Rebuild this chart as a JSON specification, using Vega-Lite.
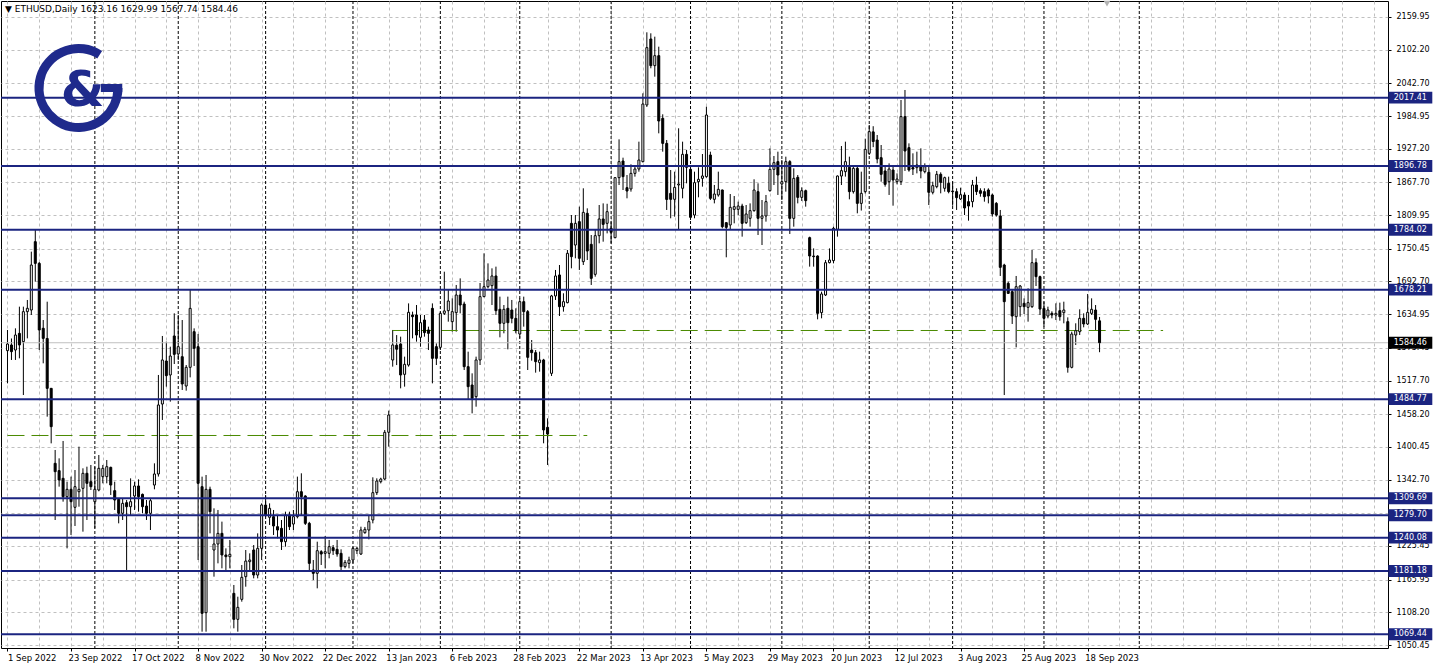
{
"$schema": "https://vega.github.io/schema/vega-lite/v6.json",
"width": 1387, "height": 647,
"autosize": "none",
"padding": {"left": 1, "top": 1, "right": 48, "bottom": 20},
"background": "white",
"title": {"text": "▼ ETHUSD,Daily  1623.16 1629.99 1567.74 1584.46", "anchor": "start", "frame": "group", "orient": "top", "offset": 0, "dx": 4, "dy": 20, "fontSize": 9, "font": "DejaVu Sans", "fontWeight": "normal", "color": "black", "baseline": "alphabetic"},
"config": {"view": {"stroke": "black", "strokeWidth": 1}},
"resolve": {"axis": {"x": "independent", "y": "independent"}},
"datasets": {
"ohlc": [
{"d":"2022-09-01","o":1570.5,"h":1607,"l":1512.7,"c":1582.2},
{"d":"2022-09-02","o":1580.5,"h":1592,"l":1554,"c":1568.7},
{"d":"2022-09-05","o":1571.6,"h":1609.9,"l":1554,"c":1598.1},
{"d":"2022-09-06","o":1601,"h":1648.2,"l":1556.9,"c":1580.5},
{"d":"2022-09-07","o":1586.4,"h":1648.2,"l":1492.1,"c":1639.4},
{"d":"2022-09-08","o":1639.4,"h":1660,"l":1592.2,"c":1645.3},
{"d":"2022-09-09","o":1642.3,"h":1745.4,"l":1633.5,"c":1721.8},
{"d":"2022-09-12","o":1763,"h":1783.6,"l":1692.4,"c":1724.7},
{"d":"2022-09-13","o":1724.7,"h":1727,"l":1571.6,"c":1607},
{"d":"2022-09-14","o":1610,"h":1624.6,"l":1548.1,"c":1592.2},
{"d":"2022-09-15","o":1592,"h":1657,"l":1453.9,"c":1503.9},
{"d":"2022-09-16","o":1503.9,"h":1504,"l":1406.7,"c":1436.2},
{"d":"2022-09-19","o":1371.4,"h":1395,"l":1271.3,"c":1356.7},
{"d":"2022-09-20","o":1358.5,"h":1380.2,"l":1330.2,"c":1342},
{"d":"2022-09-21","o":1344.9,"h":1410.9,"l":1303.7,"c":1312.5},
{"d":"2022-09-22","o":1312.5,"h":1339,"l":1221.2,"c":1325.5},
{"d":"2022-09-23","o":1325.5,"h":1347.9,"l":1244.8,"c":1303.7},
{"d":"2022-09-26","o":1293.7,"h":1359.6,"l":1260.7,"c":1330.2},
{"d":"2022-09-27","o":1321.3,"h":1400.9,"l":1294.8,"c":1325.5},
{"d":"2022-09-28","o":1327.2,"h":1362.6,"l":1250.7,"c":1353.8},
{"d":"2022-09-29","o":1353.8,"h":1365.5,"l":1271.3,"c":1336.1},
{"d":"2022-09-30","o":1339,"h":1368.5,"l":1324.3,"c":1330.2},
{"d":"2022-10-03","o":1303.7,"h":1365.5,"l":1256.6,"c":1325.5},
{"d":"2022-10-04","o":1324.3,"h":1386.1,"l":1322,"c":1362.6},
{"d":"2022-10-05","o":1347.9,"h":1368.5,"l":1336.1,"c":1362.6},
{"d":"2022-10-06","o":1347.9,"h":1377.3,"l":1336.1,"c":1365.5},
{"d":"2022-10-07","o":1364.3,"h":1365.5,"l":1315.5,"c":1333.1},
{"d":"2022-10-10","o":1323.1,"h":1339,"l":1289,"c":1306.6},
{"d":"2022-10-11","o":1307.8,"h":1309.6,"l":1265.4,"c":1283.1},
{"d":"2022-10-12","o":1283.1,"h":1309.6,"l":1271.3,"c":1300.7},
{"d":"2022-10-13","o":1301.9,"h":1306.6,"l":1183,"c":1294.8},
{"d":"2022-10-14","o":1294.8,"h":1344.9,"l":1280.1,"c":1303.7},
{"d":"2022-10-17","o":1313.7,"h":1339,"l":1289,"c":1331.4},
{"d":"2022-10-18","o":1331.4,"h":1343.1,"l":1286,"c":1312.5},
{"d":"2022-10-19","o":1316.6,"h":1318,"l":1283.1,"c":1294.8},
{"d":"2022-10-20","o":1296,"h":1306.6,"l":1271.3,"c":1283.1},
{"d":"2022-10-21","o":1283.1,"h":1309.6,"l":1253.6,"c":1305.4},
{"d":"2022-10-24","o":1333.1,"h":1371.4,"l":1325.5,"c":1352.6},
{"d":"2022-10-25","o":1352.6,"h":1527.5,"l":1348,"c":1474.5},
{"d":"2022-10-26","o":1476.2,"h":1596.4,"l":1448,"c":1554},
{"d":"2022-10-27","o":1552.2,"h":1586.4,"l":1506.9,"c":1526.3},
{"d":"2022-10-28","o":1527.5,"h":1577.5,"l":1480.4,"c":1561},
{"d":"2022-10-31","o":1596.4,"h":1636.4,"l":1546.9,"c":1564},
{"d":"2022-11-01","o":1564.6,"h":1633.5,"l":1554,"c":1577.5},
{"d":"2022-11-02","o":1559.8,"h":1624.6,"l":1501,"c":1511.6},
{"d":"2022-11-03","o":1508,"h":1545.1,"l":1499.8,"c":1541},
{"d":"2022-11-04","o":1541,"h":1677.6,"l":1523.3,"c":1645.2},
{"d":"2022-11-07","o":1604,"h":1609.9,"l":1543.4,"c":1574.6},
{"d":"2022-11-08","o":1577.5,"h":1600,"l":1200.6,"c":1336.1},
{"d":"2022-11-09","o":1330.2,"h":1347.9,"l":1074,"c":1106.4},
{"d":"2022-11-10","o":1107.6,"h":1350.8,"l":1074,"c":1325.5},
{"d":"2022-11-11","o":1325.5,"h":1330.2,"l":1247.7,"c":1286},
{"d":"2022-11-14","o":1218.3,"h":1291.9,"l":1171.2,"c":1228.9},
{"d":"2022-11-15","o":1228.9,"h":1289,"l":1194.7,"c":1247.7},
{"d":"2022-11-16","o":1247.7,"h":1268.4,"l":1185.9,"c":1209.5},
{"d":"2022-11-17","o":1209.5,"h":1221.2,"l":1183,"c":1206.5},
{"d":"2022-11-18","o":1206.5,"h":1236,"l":1185.9,"c":1210.6},
{"d":"2022-11-21","o":1141.7,"h":1156.5,"l":1079.9,"c":1095.8},
{"d":"2022-11-22","o":1095.8,"h":1135.8,"l":1074,"c":1117},
{"d":"2022-11-23","o":1131.1,"h":1191.8,"l":1127,"c":1170},
{"d":"2022-11-24","o":1171.2,"h":1218.3,"l":1153.5,"c":1198.8},
{"d":"2022-11-25","o":1197.7,"h":1212.4,"l":1180,"c":1200.6},
{"d":"2022-11-28","o":1218.3,"h":1227.1,"l":1168.2,"c":1174.1},
{"d":"2022-11-29","o":1174.1,"h":1247.7,"l":1168.2,"c":1221.2},
{"d":"2022-11-30","o":1221.2,"h":1300.7,"l":1200.6,"c":1297.8},
{"d":"2022-12-01","o":1297.8,"h":1315.5,"l":1277.2,"c":1280.1},
{"d":"2022-12-02","o":1276,"h":1300.7,"l":1262.5,"c":1291.9},
{"d":"2022-12-05","o":1277.2,"h":1289,"l":1244.8,"c":1260.7},
{"d":"2022-12-06","o":1259.5,"h":1280.1,"l":1238.9,"c":1253.6},
{"d":"2022-12-07","o":1256.6,"h":1271.3,"l":1218.3,"c":1233},
{"d":"2022-12-08","o":1233,"h":1286,"l":1224.2,"c":1280.1},
{"d":"2022-12-09","o":1280.1,"h":1286,"l":1253.6,"c":1259.5},
{"d":"2022-12-12","o":1264.2,"h":1289,"l":1253.6,"c":1277.2},
{"d":"2022-12-13","o":1277.2,"h":1347.9,"l":1274.2,"c":1321.3},
{"d":"2022-12-14","o":1321.3,"h":1353.8,"l":1280.1,"c":1312.5},
{"d":"2022-12-15","o":1313.7,"h":1315,"l":1262.5,"c":1265.4},
{"d":"2022-12-16","o":1265.4,"h":1268,"l":1180,"c":1194.7},
{"d":"2022-12-19","o":1183,"h":1200.6,"l":1165.3,"c":1177.1},
{"d":"2022-12-20","o":1177.1,"h":1233,"l":1150.6,"c":1217.1},
{"d":"2022-12-21","o":1215.3,"h":1218,"l":1191.8,"c":1211.2},
{"d":"2022-12-22","o":1212.4,"h":1243,"l":1185.9,"c":1215.3},
{"d":"2022-12-23","o":1212.4,"h":1236,"l":1203.6,"c":1224.2},
{"d":"2022-12-26","o":1222.4,"h":1227.1,"l":1209.5,"c":1217.1},
{"d":"2022-12-27","o":1219.5,"h":1236,"l":1206.5,"c":1211.2},
{"d":"2022-12-28","o":1212.4,"h":1219.5,"l":1181.8,"c":1188.9},
{"d":"2022-12-29","o":1188.9,"h":1200.6,"l":1185.9,"c":1196.5},
{"d":"2022-12-30","o":1194.7,"h":1206.5,"l":1185.9,"c":1200.6},
{"d":"2023-01-02","o":1200.6,"h":1224.2,"l":1194.7,"c":1221.2},
{"d":"2023-01-03","o":1217.1,"h":1224.2,"l":1211.2,"c":1221.2},
{"d":"2023-01-04","o":1211.2,"h":1259.5,"l":1209.5,"c":1253.6},
{"d":"2023-01-05","o":1248.9,"h":1259,"l":1247,"c":1254.8},
{"d":"2023-01-06","o":1253.6,"h":1280.1,"l":1237.1,"c":1268.4},
{"d":"2023-01-09","o":1271.3,"h":1346.7,"l":1265.4,"c":1319.6},
{"d":"2023-01-10","o":1319.6,"h":1344.9,"l":1315.5,"c":1340.2},
{"d":"2023-01-11","o":1339,"h":1346,"l":1336,"c":1343.7},
{"d":"2023-01-12","o":1343.7,"h":1430.3,"l":1341.9,"c":1426.2},
{"d":"2023-01-13","o":1426.2,"h":1464.5,"l":1400.9,"c":1456.8},
{"d":"2023-01-16","o":1554,"h":1607,"l":1542.2,"c":1580.5},
{"d":"2023-01-17","o":1580,"h":1598,"l":1545,"c":1573},
{"d":"2023-01-18","o":1582.2,"h":1595.2,"l":1503.9,"c":1527.5},
{"d":"2023-01-19","o":1528.6,"h":1559.9,"l":1506.9,"c":1546.3},
{"d":"2023-01-20","o":1545.1,"h":1654,"l":1542.2,"c":1638.2},
{"d":"2023-01-23","o":1633.5,"h":1639.4,"l":1592.2,"c":1630.5},
{"d":"2023-01-24","o":1633.5,"h":1651.1,"l":1586.4,"c":1598.1},
{"d":"2023-01-25","o":1594,"h":1633.5,"l":1577.5,"c":1619.9},
{"d":"2023-01-26","o":1624.6,"h":1633.5,"l":1595.2,"c":1602.3},
{"d":"2023-01-27","o":1607,"h":1612.9,"l":1571.6,"c":1601.1},
{"d":"2023-01-30","o":1645.2,"h":1654,"l":1512.7,"c":1556.9},
{"d":"2023-01-31","o":1577.5,"h":1583.4,"l":1545.1,"c":1556.9},
{"d":"2023-02-01","o":1576.3,"h":1639.4,"l":1571.6,"c":1636.4},
{"d":"2023-02-02","o":1636.4,"h":1710,"l":1633.5,"c":1640.6},
{"d":"2023-02-03","o":1641.1,"h":1677.6,"l":1621.7,"c":1658.2},
{"d":"2023-02-06","o":1621.7,"h":1662.9,"l":1604,"c":1639.4},
{"d":"2023-02-07","o":1637.6,"h":1686.5,"l":1604,"c":1668.8},
{"d":"2023-02-08","o":1668.8,"h":1698.2,"l":1636.4,"c":1651.1},
{"d":"2023-02-09","o":1652.9,"h":1657,"l":1536.3,"c":1542.2},
{"d":"2023-02-10","o":1542.2,"h":1568.7,"l":1483.3,"c":1506.9},
{"d":"2023-02-13","o":1509.8,"h":1530.4,"l":1459.7,"c":1486.2},
{"d":"2023-02-14","o":1489.2,"h":1559.9,"l":1471.5,"c":1554},
{"d":"2023-02-15","o":1554,"h":1690,"l":1545.1,"c":1665.9},
{"d":"2023-02-16","o":1665.9,"h":1742.4,"l":1665,"c":1683.5},
{"d":"2023-02-17","o":1683.5,"h":1724.7,"l":1680.6,"c":1695.3},
{"d":"2023-02-20","o":1685.3,"h":1715.9,"l":1651.1,"c":1702.4},
{"d":"2023-02-21","o":1702.4,"h":1718.9,"l":1633.5,"c":1641.1},
{"d":"2023-02-22","o":1643.5,"h":1665.9,"l":1594,"c":1618.8},
{"d":"2023-02-23","o":1618.8,"h":1651.1,"l":1601.1,"c":1643.5},
{"d":"2023-02-24","o":1645.3,"h":1665.9,"l":1572.8,"c":1619.9},
{"d":"2023-02-27","o":1642.3,"h":1660,"l":1618.8,"c":1627.6},
{"d":"2023-02-28","o":1627.6,"h":1645.3,"l":1601.1,"c":1605.8},
{"d":"2023-03-01","o":1599.9,"h":1662.9,"l":1592.2,"c":1657},
{"d":"2023-03-02","o":1657,"h":1665.9,"l":1612.9,"c":1639.4},
{"d":"2023-03-03","o":1639.4,"h":1642.3,"l":1536.3,"c":1558.7},
{"d":"2023-03-06","o":1571.6,"h":1589.3,"l":1552.8,"c":1566.9},
{"d":"2023-03-07","o":1566.9,"h":1571.6,"l":1531.6,"c":1551},
{"d":"2023-03-08","o":1549.3,"h":1568.7,"l":1533.4,"c":1554},
{"d":"2023-03-09","o":1554,"h":1556,"l":1406.8,"c":1430.3},
{"d":"2023-03-10","o":1435,"h":1450.9,"l":1368.5,"c":1423.2},
{"d":"2023-03-13","o":1530.4,"h":1669,"l":1525.7,"c":1667.1},
{"d":"2023-03-14","o":1667.1,"h":1713,"l":1660,"c":1702.4},
{"d":"2023-03-15","o":1704.2,"h":1721.8,"l":1631.7,"c":1648.2},
{"d":"2023-03-16","o":1648.2,"h":1671.8,"l":1639.4,"c":1657},
{"d":"2023-03-17","o":1655.3,"h":1748.3,"l":1654.1,"c":1742.4},
{"d":"2023-03-20","o":1795.4,"h":1810.1,"l":1715.9,"c":1736.5},
{"d":"2023-03-21","o":1757.1,"h":1810.1,"l":1733.6,"c":1795.4},
{"d":"2023-03-22","o":1798.4,"h":1824.9,"l":1713,"c":1733.6},
{"d":"2023-03-23","o":1727.7,"h":1857.3,"l":1721.8,"c":1814.8},
{"d":"2023-03-24","o":1813.1,"h":1821.9,"l":1730.6,"c":1746.5},
{"d":"2023-03-27","o":1758.3,"h":1774.8,"l":1686.5,"c":1698.2},
{"d":"2023-03-28","o":1705.3,"h":1783.6,"l":1701.2,"c":1773.6},
{"d":"2023-03-29","o":1773.6,"h":1827.8,"l":1760.1,"c":1803.1},
{"d":"2023-03-30","o":1803.1,"h":1830.7,"l":1763,"c":1793.6},
{"d":"2023-03-31","o":1795.4,"h":1830,"l":1777.7,"c":1816},
{"d":"2023-04-03","o":1786.6,"h":1798.4,"l":1760.1,"c":1779.5},
{"d":"2023-04-04","o":1770.1,"h":1877,"l":1769,"c":1876.1},
{"d":"2023-04-05","o":1876.1,"h":1943.8,"l":1863.1,"c":1904.4},
{"d":"2023-04-06","o":1905.5,"h":1911.4,"l":1854.3,"c":1877.9},
{"d":"2023-04-07","o":1858.4,"h":1880.8,"l":1839.6,"c":1852.5},
{"d":"2023-04-10","o":1856.1,"h":1899.7,"l":1851.4,"c":1883.7},
{"d":"2023-04-11","o":1883.7,"h":1895.5,"l":1877.9,"c":1891.4},
{"d":"2023-04-12","o":1891.4,"h":1939.7,"l":1886.7,"c":1907.3},
{"d":"2023-04-13","o":1904.4,"h":2025.1,"l":1903,"c":2006.2},
{"d":"2023-04-14","o":2004.5,"h":2132.9,"l":2001,"c":2105.8},
{"d":"2023-04-17","o":2121.1,"h":2131.1,"l":2069.3,"c":2074},
{"d":"2023-04-18","o":2074,"h":2125.2,"l":2054.5,"c":2091.6},
{"d":"2023-04-19","o":2091.6,"h":2107.5,"l":1954.4,"c":1976.2},
{"d":"2023-04-20","o":1980.9,"h":1988,"l":1922,"c":1936.7},
{"d":"2023-04-21","o":1936.7,"h":1942.6,"l":1819,"c":1837.6},
{"d":"2023-04-24","o":1848.4,"h":1889.6,"l":1804.3,"c":1837.8},
{"d":"2023-04-25","o":1837.8,"h":1886.7,"l":1807.2,"c":1859},
{"d":"2023-04-26","o":1863.2,"h":1963.3,"l":1783.6,"c":1864.9},
{"d":"2023-04-27","o":1857.3,"h":1939.7,"l":1839.6,"c":1917.3},
{"d":"2023-04-28","o":1917.3,"h":1925,"l":1866.1,"c":1894.4},
{"d":"2023-05-01","o":1890.8,"h":1892,"l":1801.3,"c":1806},
{"d":"2023-05-02","o":1810.1,"h":1886.7,"l":1804.3,"c":1867.3},
{"d":"2023-05-03","o":1869,"h":1894.4,"l":1841.4,"c":1873.2},
{"d":"2023-05-04","o":1874.9,"h":1917.9,"l":1860.2,"c":1879.1},
{"d":"2023-05-05","o":1877.9,"h":2001.5,"l":1876,"c":1986.8},
{"d":"2023-05-08","o":1916.1,"h":1922,"l":1836.6,"c":1839.6},
{"d":"2023-05-09","o":1837.8,"h":1863.2,"l":1830.7,"c":1847.2},
{"d":"2023-05-10","o":1845.5,"h":1886.7,"l":1842.5,"c":1855.5},
{"d":"2023-05-11","o":1854.3,"h":1855,"l":1786.6,"c":1789.5},
{"d":"2023-05-12","o":1796.6,"h":1797,"l":1735.4,"c":1788.3},
{"d":"2023-05-15","o":1792.5,"h":1847.2,"l":1783.6,"c":1823.7},
{"d":"2023-05-16","o":1820.1,"h":1843.7,"l":1795.4,"c":1824.9},
{"d":"2023-05-17","o":1820.1,"h":1833.7,"l":1810.1,"c":1826},
{"d":"2023-05-18","o":1826,"h":1830,"l":1771.9,"c":1795.4},
{"d":"2023-05-19","o":1796.6,"h":1827.8,"l":1794.2,"c":1811.9},
{"d":"2023-05-22","o":1804.3,"h":1830.7,"l":1789.5,"c":1817.8},
{"d":"2023-05-23","o":1817.8,"h":1873.2,"l":1816,"c":1854.3},
{"d":"2023-05-24","o":1851.4,"h":1866.1,"l":1774.8,"c":1804.3},
{"d":"2023-05-25","o":1804.3,"h":1836.6,"l":1757.1,"c":1808.4},
{"d":"2023-05-26","o":1808.4,"h":1845.5,"l":1798.4,"c":1833.7},
{"d":"2023-05-29","o":1853.1,"h":1927.9,"l":1851.4,"c":1890.8},
{"d":"2023-05-30","o":1890.8,"h":1914.4,"l":1863.1,"c":1902.6},
{"d":"2023-05-31","o":1904.4,"h":1922,"l":1845.5,"c":1880.8},
{"d":"2023-06-01","o":1864.9,"h":1907.3,"l":1836.6,"c":1869},
{"d":"2023-06-02","o":1869,"h":1913.2,"l":1851.4,"c":1904.4},
{"d":"2023-06-05","o":1904.4,"h":1907,"l":1776.6,"c":1804.2},
{"d":"2023-06-06","o":1804.2,"h":1892.6,"l":1789.5,"c":1874.9},
{"d":"2023-06-07","o":1876.7,"h":1880.8,"l":1830.7,"c":1841.3},
{"d":"2023-06-08","o":1841.3,"h":1859,"l":1835,"c":1853.1},
{"d":"2023-06-09","o":1853.1,"h":1855,"l":1824.9,"c":1835.5},
{"d":"2023-06-12","o":1770.1,"h":1771.9,"l":1718.9,"c":1737.7},
{"d":"2023-06-13","o":1737.7,"h":1751.2,"l":1718.9,"c":1736.5},
{"d":"2023-06-14","o":1737.7,"h":1739,"l":1625.8,"c":1636.4},
{"d":"2023-06-15","o":1637.6,"h":1674.7,"l":1627.6,"c":1670.6},
{"d":"2023-06-16","o":1668.8,"h":1730.6,"l":1667,"c":1725.9},
{"d":"2023-06-19","o":1725.9,"h":1751.2,"l":1724.7,"c":1730.6},
{"d":"2023-06-20","o":1729.5,"h":1789.5,"l":1724.7,"c":1786.6},
{"d":"2023-06-21","o":1784.8,"h":1880,"l":1771.9,"c":1879},
{"d":"2023-06-22","o":1879,"h":1932,"l":1863.1,"c":1888.5},
{"d":"2023-06-23","o":1886.7,"h":1939.7,"l":1877.9,"c":1904.4},
{"d":"2023-06-26","o":1894.3,"h":1913.2,"l":1837.8,"c":1851.4},
{"d":"2023-06-27","o":1851.4,"h":1895.5,"l":1848,"c":1892.6},
{"d":"2023-06-28","o":1892.6,"h":1895.5,"l":1813.1,"c":1830.7},
{"d":"2023-06-29","o":1830.7,"h":1886.7,"l":1818,"c":1848.4},
{"d":"2023-06-30","o":1851.4,"h":1945,"l":1848,"c":1926.1},
{"d":"2023-07-03","o":1919.1,"h":1969.1,"l":1916.1,"c":1957.4},
{"d":"2023-07-04","o":1957,"h":1967,"l":1930,"c":1940},
{"d":"2023-07-05","o":1942.6,"h":1951.5,"l":1901.4,"c":1909.1},
{"d":"2023-07-06","o":1911.4,"h":1933.8,"l":1869,"c":1882},
{"d":"2023-07-07","o":1887.9,"h":1898.5,"l":1860.2,"c":1864.3},
{"d":"2023-07-10","o":1869,"h":1901.4,"l":1845.5,"c":1891.4},
{"d":"2023-07-11","o":1889.6,"h":1898.5,"l":1826.6,"c":1872},
{"d":"2023-07-12","o":1869,"h":1883.7,"l":1864.3,"c":1873.7},
{"d":"2023-07-13","o":1869,"h":2013.3,"l":1863.1,"c":1983.9},
{"d":"2023-07-14","o":1983.9,"h":2031,"l":1887.9,"c":1923.2},
{"d":"2023-07-17","o":1929.1,"h":1936.7,"l":1886.7,"c":1889.6},
{"d":"2023-07-18","o":1893.8,"h":1919.1,"l":1880.8,"c":1891.4},
{"d":"2023-07-19","o":1893.8,"h":1922,"l":1883.7,"c":1898.5},
{"d":"2023-07-20","o":1895.5,"h":1927.9,"l":1874.9,"c":1887.9},
{"d":"2023-07-21","o":1886.7,"h":1901.4,"l":1883.7,"c":1895.5},
{"d":"2023-07-24","o":1885.5,"h":1898.5,"l":1827.8,"c":1850.2},
{"d":"2023-07-25","o":1850.2,"h":1869,"l":1846.6,"c":1862},
{"d":"2023-07-26","o":1860.2,"h":1887.9,"l":1857.3,"c":1882},
{"d":"2023-07-27","o":1882,"h":1885.5,"l":1848.4,"c":1867.8},
{"d":"2023-07-28","o":1857.3,"h":1877.9,"l":1851.4,"c":1876.1},
{"d":"2023-07-31","o":1866.1,"h":1877.9,"l":1848.4,"c":1851.4},
{"d":"2023-08-01","o":1852.5,"h":1869,"l":1826.6,"c":1851.4},
{"d":"2023-08-02","o":1851.4,"h":1857.3,"l":1819,"c":1840.8},
{"d":"2023-08-03","o":1838.5,"h":1858.4,"l":1836.6,"c":1846},
{"d":"2023-08-04","o":1845.5,"h":1850.2,"l":1810.1,"c":1822.5},
{"d":"2023-08-07","o":1833.7,"h":1845.5,"l":1800.1,"c":1826},
{"d":"2023-08-08","o":1833.7,"h":1872,"l":1823.7,"c":1863.1},
{"d":"2023-08-09","o":1863.1,"h":1877.9,"l":1845.5,"c":1851.4},
{"d":"2023-08-10","o":1853.1,"h":1857.3,"l":1842.5,"c":1848.4},
{"d":"2023-08-11","o":1851.4,"h":1857.3,"l":1833.7,"c":1842.5},
{"d":"2023-08-14","o":1854.3,"h":1857.3,"l":1830.7,"c":1843.7},
{"d":"2023-08-15","o":1845.5,"h":1848,"l":1807.2,"c":1811.9},
{"d":"2023-08-16","o":1830.7,"h":1833,"l":1807.2,"c":1810.1},
{"d":"2023-08-17","o":1808.4,"h":1819,"l":1702.4,"c":1717.7},
{"d":"2023-08-18","o":1721.8,"h":1724,"l":1492.1,"c":1657},
{"d":"2023-08-21","o":1689.4,"h":1692.4,"l":1670.6,"c":1671.7},
{"d":"2023-08-22","o":1674.7,"h":1677.6,"l":1617.6,"c":1631.7},
{"d":"2023-08-23","o":1630.5,"h":1702.4,"l":1576.3,"c":1683.5},
{"d":"2023-08-24","o":1648.2,"h":1686.5,"l":1630.5,"c":1684.7},
{"d":"2023-08-25","o":1654.1,"h":1662.9,"l":1635.2,"c":1648.2},
{"d":"2023-08-28","o":1647,"h":1680.6,"l":1621.7,"c":1655.3},
{"d":"2023-08-29","o":1648.2,"h":1748.3,"l":1646,"c":1725.9},
{"d":"2023-08-30","o":1725.9,"h":1733.6,"l":1684.7,"c":1701.2},
{"d":"2023-08-31","o":1701.2,"h":1703,"l":1633.5,"c":1644},
{"d":"2023-09-01","o":1645.2,"h":1657,"l":1612.9,"c":1627.6},
{"d":"2023-09-04","o":1631.7,"h":1648.2,"l":1627.6,"c":1642.3},
{"d":"2023-09-05","o":1636.4,"h":1640,"l":1627.6,"c":1633.5},
{"d":"2023-09-06","o":1633.5,"h":1654.1,"l":1624.6,"c":1636.4},
{"d":"2023-09-07","o":1641.1,"h":1655.3,"l":1623.4,"c":1630.5},
{"d":"2023-09-08","o":1637.6,"h":1657,"l":1618.8,"c":1642.3},
{"d":"2023-09-11","o":1621.7,"h":1629.3,"l":1531.6,"c":1541},
{"d":"2023-09-12","o":1541,"h":1604,"l":1539.2,"c":1599.9},
{"d":"2023-09-13","o":1598.1,"h":1618.8,"l":1580.5,"c":1605.8},
{"d":"2023-09-14","o":1604,"h":1643.5,"l":1598.1,"c":1627.6},
{"d":"2023-09-15","o":1627.6,"h":1636.4,"l":1611.7,"c":1617.6},
{"d":"2023-09-18","o":1617.6,"h":1670.6,"l":1615.8,"c":1638.2},
{"d":"2023-09-19","o":1636.4,"h":1662.9,"l":1633.5,"c":1643.5},
{"d":"2023-09-20","o":1642.3,"h":1651.1,"l":1607,"c":1625.8},
{"d":"2023-09-21","o":1623.16,"h":1629.99,"l":1567.74,"c":1584.46}
],
"levels": [{"p":2017.41},{"p":1896.78},{"p":1784.02},{"p":1678.21},{"p":1484.77},{"p":1309.69},{"p":1279.70},{"p":1240.08},{"p":1181.18},{"p":1069.44}],
"bid": [{"p":1584.46}]
},
"layer": [
{
"data": {"name": "ohlc"},
"transform": [{"window": [{"op": "row_number", "as": "n"}], "sort": [{"field": "d"}]}],
"mark": {"type": "rule", "color": "black", "strokeWidth": 1},
"encoding": {
"x": {"field": "n", "type": "quantitative", "scale": {"domain": [0.625, 347.375], "nice": false, "zero": false},
"axis": {"orient": "bottom", "title": null, "values": [1,9,17,25,33,41,49,57,65,73,81,89,97,105,113,121,129,137,145,153,161,169,177,185,193,201,209,217,225,233,241,249,257,265,273,281,289,297,305,313,321,329,337,345],
"grid": true, "gridColor": "#c0c0c0", "gridDash": [3,3], "gridWidth": 1, "domain": false,
"ticks": true, "tickSize": 3, "tickColor": "black", "tickOpacity": {"condition": {"test": "(datum.value-1)%16==0 && datum.value<=273", "value": 1}, "value": 0},
"labelExpr": "(datum.value-1)%16==0 && datum.value<=273 ? ['1 Sep 2022','23 Sep 2022','17 Oct 2022','8 Nov 2022','30 Nov 2022','22 Dec 2022','13 Jan 2023','6 Feb 2023','28 Feb 2023','22 Mar 2023','13 Apr 2023','5 May 2023','29 May 2023','20 Jun 2023','12 Jul 2023','3 Aug 2023','25 Aug 2023','18 Sep 2023'][(datum.value-1)/16] : ''",
"labelOffset": {"condition": {"test": "datum.value==1", "value": 0}, "value": -3},
"labelAlign": "left", "labelPadding": 2, "labelFont": "DejaVu Sans", "labelFontSize": 8.5, "labelColor": "black", "labelOverlap": false, "labelBound": false, "labelFlush": false}},
"y": {"field": "l", "type": "quantitative", "scale": {"domain": [1045.16, 2188.21], "nice": false, "zero": false},
"axis": {"orient": "right", "title": null, "values": [2159.95,2102.20,2042.70,1984.95,1927.20,1867.70,1809.95,1750.45,1692.70,1634.95,1575.45,1517.70,1458.20,1400.45,1342.70,1283.20,1225.45,1165.95,1108.20,1050.45],
"grid": true, "gridColor": "#c0c0c0", "gridDash": [3,3], "gridWidth": 1, "domain": false, "tickSize": 3, "tickColor": "black", "format": ".2f",
"labelAlign": "left", "labelPadding": 5, "labelFont": "DejaVu Sans", "labelFontSize": 8, "labelColor": "black", "labelOverlap": false, "labelBound": false, "labelFlush": false}},
"y2": {"field": "h"}
}
},
{
"data": {"name": "ohlc"},
"transform": [{"window": [{"op": "row_number", "as": "n"}, {"op": "lag", "field": "d", "as": "pd"}], "sort": [{"field": "d"}]},
{"filter": "datum.pd != null && utcmonth(datum.d) != utcmonth(datum.pd)"}],
"mark": {"type": "rule", "color": "black", "strokeWidth": 1, "strokeDash": [3, 2]},
"encoding": {"x": {"field": "n", "type": "quantitative", "scale": {"domain": [0.625, 347.375], "nice": false, "zero": false}, "axis": null}}
},
{
"data": {"values": [{}]},
"mark": {"type": "rule", "color": "black", "strokeWidth": 1, "strokeDash": [3, 2]},
"encoding": {"x": {"datum": 286, "type": "quantitative", "scale": {"domain": [0.625, 347.375], "nice": false, "zero": false}, "axis": null}}
},
{
"data": {"name": "bid"},
"mark": {"type": "rule", "color": "#c0c0c0", "strokeWidth": 1},
"encoding": {"y": {"field": "p", "type": "quantitative", "scale": {"domain": [1045.16, 2188.21], "nice": false, "zero": false}, "axis": null}}
},
{
"data": {"values": [{}]},
"mark": {"type": "rule", "color": "#4a8a00", "strokeWidth": 1, "strokeDash": [17, 7]},
"encoding": {"x": {"datum": 98, "type": "quantitative", "scale": {"domain": [0.625, 347.375], "nice": false, "zero": false}, "axis": null}, "x2": {"datum": 292},
"y": {"datum": 1606.1, "type": "quantitative", "scale": {"domain": [1045.16, 2188.21], "nice": false, "zero": false}, "axis": null}}
},
{
"data": {"values": [{}]},
"mark": {"type": "rule", "color": "#4a8a00", "strokeWidth": 1, "strokeDash": [17, 7]},
"encoding": {"x": {"datum": 1, "type": "quantitative", "scale": {"domain": [0.625, 347.375], "nice": false, "zero": false}, "axis": null}, "x2": {"datum": 147},
"y": {"datum": 1420.6, "type": "quantitative", "scale": {"domain": [1045.16, 2188.21], "nice": false, "zero": false}, "axis": null}}
},
{
"data": {"name": "ohlc"},
"transform": [{"window": [{"op": "row_number", "as": "n"}], "sort": [{"field": "d"}]}],
"mark": {"type": "bar", "size": 2, "stroke": "black", "strokeWidth": 1},
"encoding": {
"x": {"field": "n", "type": "quantitative", "scale": {"domain": [0.625, 347.375], "nice": false, "zero": false}, "axis": null},
"y": {"field": "o", "type": "quantitative", "scale": {"domain": [1045.16, 2188.21], "nice": false, "zero": false}, "axis": null},
"y2": {"field": "c"},
"fill": {"condition": {"test": "datum.c >= datum.o", "value": "white"}, "value": "black"}
}
},
{
"data": {"name": "levels"},
"mark": {"type": "rule", "color": "#1b2480", "strokeWidth": 2},
"encoding": {"y": {"field": "p", "type": "quantitative", "scale": {"domain": [1045.16, 2188.21], "nice": false, "zero": false}, "axis": null}}
},
{
"data": {"name": "levels"},
"mark": {"type": "point", "shape": "M-1,-0.27L1,-0.27L1,0.27L-1,0.27Z", "size": 1936, "filled": true, "color": "#1b2480", "opacity": 1},
"encoding": {"x": {"datum": 354.25, "type": "quantitative", "scale": {"domain": [0.625, 347.375], "nice": false, "zero": false}, "axis": null},
"y": {"field": "p", "type": "quantitative", "scale": {"domain": [1045.16, 2188.21], "nice": false, "zero": false}, "axis": null}}
},
{
"data": {"name": "bid"},
"mark": {"type": "point", "shape": "M-1,-0.27L1,-0.27L1,0.27L-1,0.27Z", "size": 1936, "filled": true, "color": "black", "opacity": 1},
"encoding": {"x": {"datum": 354.25, "type": "quantitative", "scale": {"domain": [0.625, 347.375], "nice": false, "zero": false}, "axis": null},
"y": {"field": "p", "type": "quantitative", "scale": {"domain": [1045.16, 2188.21], "nice": false, "zero": false}, "axis": null}}
},
{
"data": {"name": "levels"},
"mark": {"type": "text", "color": "white", "font": "DejaVu Sans", "fontSize": 8, "align": "center", "baseline": "middle"},
"encoding": {"x": {"datum": 354.25, "type": "quantitative", "scale": {"domain": [0.625, 347.375], "nice": false, "zero": false}, "axis": null},
"y": {"field": "p", "type": "quantitative", "scale": {"domain": [1045.16, 2188.21], "nice": false, "zero": false}, "axis": null},
"text": {"field": "p", "type": "quantitative", "format": ".2f"}}
},
{
"data": {"name": "bid"},
"mark": {"type": "text", "color": "white", "font": "DejaVu Sans", "fontSize": 8, "align": "center", "baseline": "middle"},
"encoding": {"x": {"datum": 354.25, "type": "quantitative", "scale": {"domain": [0.625, 347.375], "nice": false, "zero": false}, "axis": null},
"y": {"field": "p", "type": "quantitative", "scale": {"domain": [1045.16, 2188.21], "nice": false, "zero": false}, "axis": null},
"text": {"field": "p", "type": "quantitative", "format": ".2f"}}
},
{
"data": {"values": [{}]},
"mark": {"type": "point", "shape": "triangle-down", "size": 45, "filled": true, "color": "#b4b4b4", "opacity": 1},
"encoding": {"x": {"datum": 277.875, "type": "quantitative", "scale": {"domain": [0.625, 347.375], "nice": false, "zero": false}, "axis": null},
"y": {"datum": 2183.5, "type": "quantitative", "scale": {"domain": [1045.16, 2188.21], "nice": false, "zero": false}, "axis": null}}
},
{
"data": {"values": [{}]},
"mark": {"type": "arc", "radius": 44, "radius2": 35, "theta": 1.57, "theta2": 6.85, "color": "#1f2a8c"},
"encoding": {"x": {"datum": 18.875, "type": "quantitative", "scale": {"domain": [0.625, 347.375], "nice": false, "zero": false}, "axis": null},
"y": {"datum": 2034.5, "type": "quantitative", "scale": {"domain": [1045.16, 2188.21], "nice": false, "zero": false}, "axis": null}}
},
{
"data": {"values": [{}]},
"mark": {"type": "rule", "color": "#1f2a8c", "strokeWidth": 8, "strokeCap": "butt"},
"encoding": {"x": {"datum": 24.5, "type": "quantitative", "scale": {"domain": [0.625, 347.375], "nice": false, "zero": false}, "axis": null}, "x2": {"datum": 29.9},
"y": {"datum": 2034.5, "type": "quantitative", "scale": {"domain": [1045.16, 2188.21], "nice": false, "zero": false}, "axis": null}}
},
{
"data": {"values": [{}]},
"mark": {"type": "text", "text": "&", "color": "#1f2a8c", "font": "DejaVu Sans", "fontSize": 50, "fontWeight": "bold", "align": "center", "baseline": "middle"},
"encoding": {"x": {"datum": 19.9, "type": "quantitative", "scale": {"domain": [0.625, 347.375], "nice": false, "zero": false}, "axis": null},
"y": {"datum": 2030, "type": "quantitative", "scale": {"domain": [1045.16, 2188.21], "nice": false, "zero": false}, "axis": null}}
}
]
}
